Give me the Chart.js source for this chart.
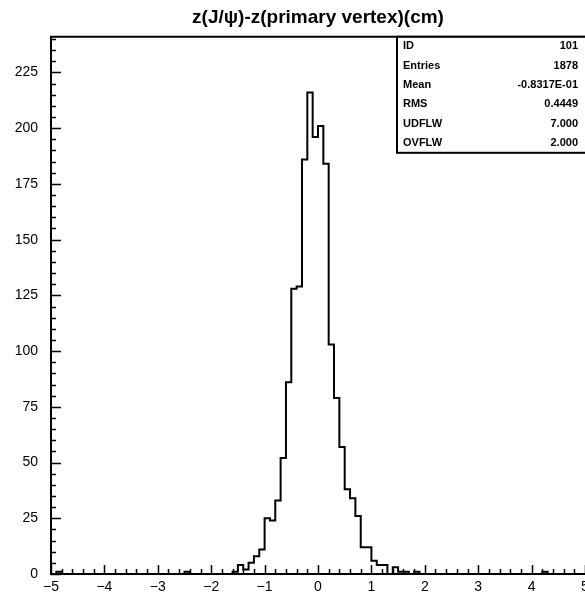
<!DOCTYPE html>
<html>
<head>
<meta charset="utf-8">
<script src="https://cdn.jsdelivr.net/npm/chart.js@4"></script>
<style>
  html, body { margin: 0; padding: 0; background: #fff; }
  #wrap { width: 585px; height: 599px; }
</style>
</head>
<body>
<div id="wrap"><canvas id="hist"></canvas></div>
<script>
// histogram: 100 bins of 0.1 cm between -5 and 5
var xMin = -5, xMax = 5, binWidth = 0.1;
var counts = [
  0, 1, 0, 0, 0, 0, 0, 0, 0, 0,
  0, 0, 0, 0, 0, 0, 0, 0, 0, 0,
  0, 0, 0, 0, 0, 1, 0, 0, 0, 0,
  0, 0, 0, 0, 1, 4, 2, 5, 8, 11,
  25, 24, 33, 52, 86, 128, 129, 186, 216, 196,
  201, 184, 103, 79, 57, 38, 34, 26, 12, 12,
  6, 4, 4, 0, 3, 1, 1, 0, 1, 0,
  0, 0, 0, 0, 0, 0, 0, 0, 0, 0,
  0, 0, 0, 0, 0, 0, 0, 0, 0, 0,
  0, 0, 1, 0, 0, 0, 0, 0, 0, 0
];
var xTicks = [-5, -4, -3, -2, -1, 0, 1, 2, 3, 4, 5];
var yTicks = [0, 25, 50, 75, 100, 125, 150, 175, 200, 225];
var yMax = 241;

var statLabels = ["ID", "Entries", "Mean", "RMS", "UDFLW", "OVFLW"];
var statValues = ["101", "1878", "-0.8317E-01", "0.4449", "7.000", "2.000"];

// left bin edges, plus closing point at the upper edge
var points = counts.map(function (c, k) {
  return { x: xMin + k * binWidth, y: c };
});
points.push({ x: xMax, y: counts[counts.length - 1] });

var FONT = "'Liberation Sans', Arial, Helvetica, sans-serif";

function fmt(v) {
  return v < 0 ? "\u2212" + Math.abs(v) : String(v);
}

var pawFrame = {
  id: "pawFrame",
  afterDraw: function (chart) {
    var ctx = chart.ctx, a = chart.chartArea;
    var xs = chart.scales.x, ys = chart.scales.y;
    ctx.save();
    ctx.strokeStyle = "#000";
    ctx.lineWidth = 2;
    ctx.beginPath();
    ctx.moveTo(a.right, a.top);
    ctx.lineTo(a.left, a.top);
    ctx.lineTo(a.left, a.bottom);
    ctx.lineTo(a.right, a.bottom);
    ctx.stroke();

    // ticks pointing into the plot
    ctx.lineWidth = 1.5;
    ctx.beginPath();
    for (var v = xMin; v <= xMax + 1e-9; v += 0.2) {
      var px = Math.round(xs.getPixelForValue(v)) + 0.5;
      var major = Math.abs(v - Math.round(v)) < 1e-6;
      ctx.moveTo(px, a.bottom);
      ctx.lineTo(px, a.bottom - (major ? 9 : 5));
    }
    for (var w = 0; w <= yMax; w += 5) {
      var py = Math.round(ys.getPixelForValue(w)) + 0.5;
      ctx.moveTo(a.left, py);
      ctx.lineTo(a.left + (w % 25 === 0 ? 10 : 5), py);
    }
    ctx.stroke();

    // tick labels
    ctx.fillStyle = "#000";
    ctx.font = "14px " + FONT;
    ctx.textAlign = "center";
    ctx.textBaseline = "middle";
    xTicks.forEach(function (t) {
      ctx.fillText(fmt(t), xs.getPixelForValue(t), a.bottom + 13);
    });
    ctx.textAlign = "right";
    yTicks.forEach(function (t) {
      ctx.fillText(fmt(t), a.left - 13, ys.getPixelForValue(t));
    });

    // statistics box
    var bx = 397, by = a.top, bw = 588 - bx, bh = 116;
    ctx.fillStyle = "#fff";
    ctx.fillRect(bx, by, bw, bh);
    ctx.lineWidth = 2;
    ctx.strokeRect(bx, by, bw, bh);
    ctx.fillStyle = "#000";
    ctx.font = "bold 11px " + FONT;
    var rowH = bh / statLabels.length;
    statLabels.forEach(function (lab, i) {
      var ty = by + rowH * (i + 0.5);
      ctx.textAlign = "left";
      ctx.fillText(lab, bx + 6, ty);
      ctx.textAlign = "right";
      ctx.fillText(statValues[i], 578, ty);
    });
    ctx.restore();
  }
};

var ctx = document.getElementById("hist");

var histChart = new Chart(ctx, {
  type: "line",
  data: {
    datasets: [
      {
        label: "z",
        data: points,
        stepped: "before",
        borderColor: "#000",
        borderWidth: 2,
        pointRadius: 0,
        fill: false
      }
    ]
  },
  options: {
    responsive: true,
    maintainAspectRatio: false,
    animation: false,
    layout: { padding: { left: 51, right: 0, top: 0, bottom: 25 } },
    scales: {
      x: { type: "linear", min: xMin, max: xMax, display: false },
      y: { type: "linear", min: 0, max: yMax, display: false }
    },
    plugins: {
      legend: { display: false },
      tooltip: { enabled: false },
      title: {
        display: true,
        text: "z(J/\u03c8)-z(primary vertex)(cm)",
        color: "#000",
        font: { family: FONT, size: 19, weight: "bold" },
        padding: { top: 6, bottom: 8 }
      }
    }
  },
  plugins: [pawFrame]
});
</script>
</body>
</html>
